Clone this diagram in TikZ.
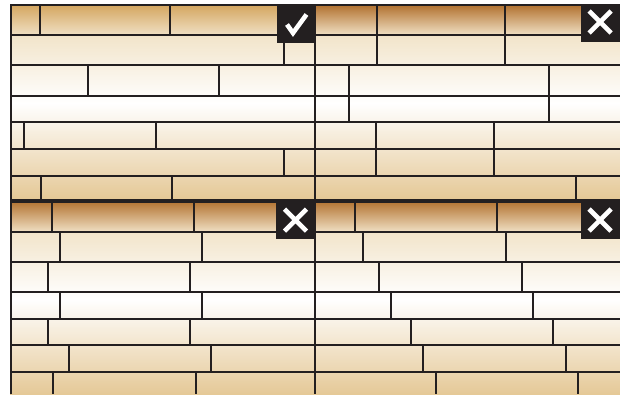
\documentclass[tikz,border=0pt]{standalone}
\definecolor{ink}{HTML}{231F20}
\definecolor{tantop}{HTML}{ECD8B2}
\definecolor{tanbot}{HTML}{E4C794}
\definecolor{brownA}{HTML}{B27230}
\definecolor{brownL}{HTML}{D4A660}
\definecolor{rowbot}{HTML}{F0E0C4}
\tikzset{
  joint/.style={draw=ink, line width=1.8bp},
  frameline/.style={draw=ink, line width=2.6bp},
  badge/.style={fill=ink},
  markline/.style={draw=white, line width=4.6bp, line cap=butt, line join=miter},
}
\begin{document}
\begin{tikzpicture}[x=1bp,y=-1bp]
\useasboundingbox (0,0) rectangle (620,394);
\clip (0,0) rectangle (620,394);
\fill[white] (0,0) rectangle (620,394);
% panel shadings
\shade[top color=tantop, bottom color=tanbot, middle color=white] (10,5) rectangle (620,201);
\shade[top color=tantop, bottom color=tanbot, middle color=white] (10,201) rectangle (620,397);
% first-row darkening
\shade[top color=brownL, bottom color=rowbot] (10,5) rectangle (315,35);
\shade[top color=brownA, bottom color=rowbot] (315,5) rectangle (620,35);
\shade[top color=brownA, bottom color=rowbot] (10,201) rectangle (315,232);
\shade[top color=brownA, bottom color=rowbot] (315,201) rectangle (620,232);
% horizontal joints
\foreach \y in {35,65,96,122,149,176} \draw[joint] (10,\y) -- (620,\y);
\foreach \y in {232,262,292,319,345,372} \draw[joint] (10,\y) -- (620,\y);
% vertical joints: top-left
\foreach \x/\a/\b in {40/5/35,170/5/35,284/35/65,88/65/96,219/65/96,24/122/149,156/122/149,284/149/176,41/176/201,172/176/201}
  \draw[joint] (\x,\a) -- (\x,\b);
% top-right
\foreach \x/\a/\b in {377/5/35,505/5/35,377/35/65,505/35/65,349/65/96,549/65/96,349/96/122,549/96/122,376/122/149,494/122/149,376/149/176,494/149/176,576/176/201}
  \draw[joint] (\x,\a) -- (\x,\b);
% bottom-left
\foreach \x/\a/\b in {52/201/232,194/201/232,60/232/262,202/232/262,48/262/292,190/262/292,60/292/319,202/292/319,48/319/345,190/319/345,69/345/372,211/345/372,53/372/394,196/372/394}
  \draw[joint] (\x,\a) -- (\x,\b);
% bottom-right
\foreach \x/\a/\b in {355/201/232,497/201/232,363/232/262,506/232/262,379/262/292,522/262/292,391/292/319,533/292/319,411/319/345,553/319/345,423/345/372,566/345/372,436/372/394,578/372/394}
  \draw[joint] (\x,\a) -- (\x,\b);
% frame
\draw[frameline] (11,394) -- (11,5) -- (620,5);
\draw[frameline] (315,5) -- (315,394);
\draw[draw=ink, line width=3.2bp] (10,201) -- (620,201);
% badges
\fill[badge] (277,4) rectangle (316,43);
\draw[markline] (287,24.5) -- (293,33) -- (306.5,14.5);
\fill[badge] (581,4) rectangle (620,42);
\draw[markline] (589,11) -- (611,33) (589,33) -- (611,11);
\fill[badge] (276,202) rectangle (316,239);
\draw[markline] (284.5,209) -- (306.5,231) (284.5,231) -- (306.5,209);
\fill[badge] (581,202) rectangle (620,239);
\draw[markline] (589,209) -- (611,231) (589,231) -- (611,209);
\end{tikzpicture}
\end{document}
